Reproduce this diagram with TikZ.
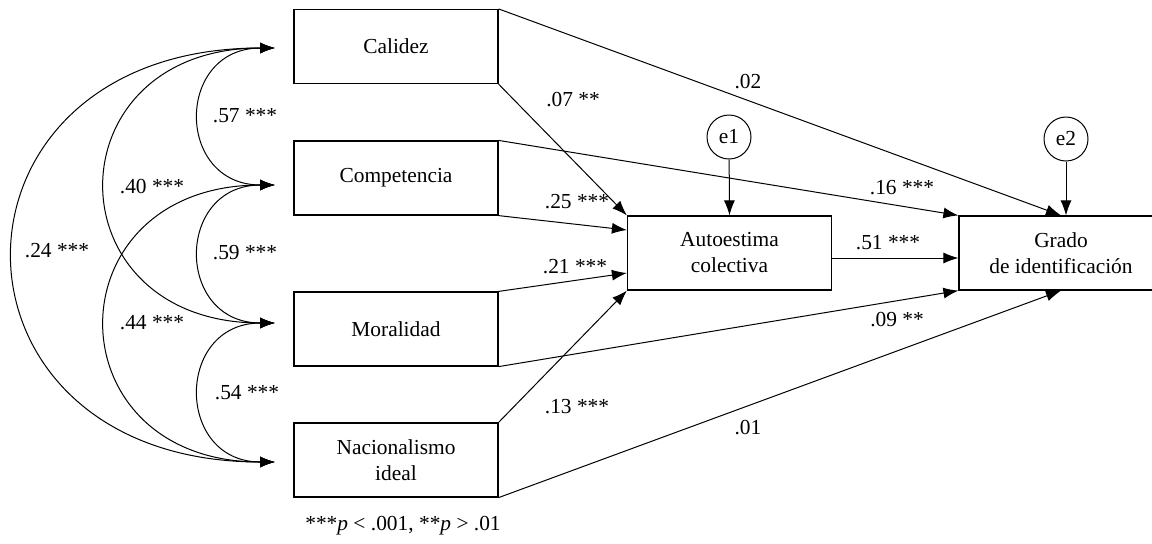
\documentclass[tikz,border=0pt]{standalone}
\usepackage{fontspec}
\setmainfont{Liberation Serif}
\usetikzlibrary{arrows.meta,positioning}

\begin{document}
\begin{tikzpicture}[x=0.5pt,y=-0.5pt,font=\fontsize{10.7}{13}\selectfont,
  var/.style={draw,line width=.6pt,minimum width=102pt,minimum height=37pt,align=center,inner sep=0pt},
  err/.style={draw,circle,line width=.5pt,minimum size=22pt,inner sep=0pt},
  coef/.style={inner sep=1pt},
  reg/.style={line width=.5pt,-{Latex[length=7.5pt,width=5.5pt]}},
  cov/.style={line width=.5pt,{Latex[length=7.5pt,width=5.5pt]}-{Latex[length=7.5pt,width=5.5pt]}}]
\useasboundingbox (0,0) rectangle (1152,543);
% variables
\node[var] (cal) at (396,46.5) {Calidez};
\node[var] (comp) at (396,178) {Competencia};
\node[var] (mor) at (396,329) {Moralidad};
\node[var] (nac) at (396,460) {Nacionalismo\\ideal};
\node[var] (auto) at (729.5,253) {Autoestima\\colectiva};
\node[var] (grado) at (1061,253) {Grado\\de identificación};
\node[err] (e1) at (729,137) {e1};
\node[err] (e2) at (1066,139) {e2};
% covariances
\coordinate (calin) at (275,48);
\coordinate (compin) at (275,185);
\coordinate (morin) at (275,323);
\coordinate (nacin) at (275,462);
\draw[cov] (calin) .. controls +(-100,0) and +(-100,0) .. (compin);
\draw[cov] (compin) .. controls +(-100,0) and +(-100,0) .. (morin);
\draw[cov] (morin) .. controls +(-100,0) and +(-100,0) .. (nacin);
\draw[cov] (calin) .. controls +(-225,0) and +(-225,0) .. (morin);
\draw[cov] (compin) .. controls +(-225,0) and +(-225,0) .. (nacin);
\draw[cov] (calin) .. controls +(-348,0) and +(-348,0) .. (nacin);
\node[coef] (c57) at (245,116) {.57 ***};
\node[coef] (c59) at (245,253) {.59 ***};
\node[coef] (c54) at (247,393) {.54 ***};
\node[coef] (c40) at (152,187) {.40 ***};
\node[coef] (c44) at (152,323) {.44 ***};
\node[coef] (c24) at (57,251) {.24 ***};
% paths
\draw[reg] (cal.north east) -- (grado.north);
\draw[reg] (cal.south east) -- (auto.north west);
\draw[reg] (comp.north east) -- (grado.north west);
\draw[reg] (comp.south east) -- ([yshift=11.5pt]auto.west);
\draw[reg] (mor.north east) -- ([yshift=-10pt]auto.west);
\draw[reg] (mor.south east) -- (grado.south west);
\draw[reg] (nac.north east) -- (auto.south west);
\draw[reg] (nac.south east) -- (grado.south);
\draw[reg] ([yshift=-2.5pt]auto.east) -- ([yshift=-2.5pt]grado.west);
\draw[reg] (e1) -- (auto.north);
\draw[reg] (e2) -- (e2 |- grado.north);
\node[coef] (p02) at (748,82) {.02};
\node[coef] (p07) at (573,100) {.07 **};
\node[coef] (p16) at (902,188) {.16 ***};
\node[coef] (p25) at (577,202) {.25 ***};
\node[coef] (p21) at (575,267) {.21 ***};
\node[coef] (p51) at (888,243) {.51 ***};
\node[coef] (p09) at (897,320) {.09 **};
\node[coef] (p13) at (577,407) {.13 ***};
\node[coef] (p01) at (748,428) {.01};
% note
\node (nota) at (403,526) {***\textit{p} < .001, **\textit{p} > .01};
\end{tikzpicture}
\end{document}
